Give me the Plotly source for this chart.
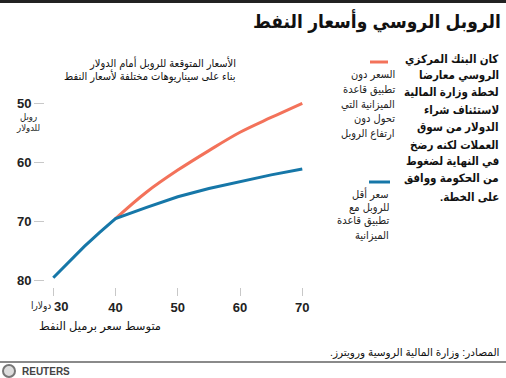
import plotly.graph_objects as go

# ---- data ----
oil_low = [30, 32.5, 35, 37.5, 40, 45, 50, 55, 60, 65, 70]
ruble_with_rule = [79.5, 76.8, 74.2, 71.8, 69.5, 67.6, 65.8, 64.4, 63.2, 62.1, 61.1]
oil_high = [40, 45, 50, 55, 60, 65, 70]
ruble_no_rule = [69.5, 65.0, 61.3, 58.0, 54.9, 52.4, 50.0]
x_ticks = [30, 40, 50, 60, 70]
x_tick_text = ["", "40", "50", "60", "70"]
y_ticks = [50, 60, 70, 80]
y_tick_text = ["50", "60", "70", "80"]

RLM = "\u200f"
title = "الروبل الروسي وأسعار النفط"
subtitle = ["الأسعار المتوقعة للروبل أمام الدولار", "بناء على سيناريوهات مختلفة لأسعار النفط"]
y_unit = ["روبل", "للدولار"]
x_title = "متوسط سعر برميل النفط"
first_tick_value = "30"
first_tick_unit = "دولارا"
legend_no_rule = ["السعر دون", "تطبيق قاعدة", "الميزانية التي", "تحول دون", "ارتفاع الروبل"]
legend_rule = ["سعر أقل", "للروبل مع", "تطبيق قاعدة", "الميزانية"]
paragraph = ["كان البنك المركزي", "الروسي معارضا", "لخطة وزارة المالية", "لاستئناف شراء",
             "الدولار من سوق", "العملات لكنه رضخ", "في النهاية لضغوط", "من الحكومة ووافق",
             "على الخطة."]
source = "المصادر: وزارة المالية الروسية ورويترز."

ORANGE = "#f3725a"
BLUE = "#1677a8"
FONT = "Liberation Sans, DejaVu Sans, sans-serif"
FONT_C = "Liberation Sans, DejaVu Sans Condensed, DejaVu Sans, sans-serif"

W, H = 506, 378
L, R, T, B = 45, 196, 95, 91
PW, PH = W - L - R, H - T - B


def px(x):
    return (x - L) / PW


def py(y):
    return (H - B - y) / PH


fig = go.Figure()
fig.add_trace(go.Scatter(x=oil_high, y=ruble_no_rule, mode="lines",
                         line=dict(color=ORANGE, width=3, shape="spline"),
                         hoverinfo="skip", showlegend=False))
fig.add_trace(go.Scatter(x=oil_low, y=ruble_with_rule, mode="lines",
                         line=dict(color=BLUE, width=3),
                         hoverinfo="skip", showlegend=False))

ann = []


def text(t, x, y, size=11, anchor="right", color="#222", bold=False, family=FONT_C):
    ann.append(dict(text=RLM + t + RLM, x=px(x), y=py(y), xref="paper", yref="paper",
                    xanchor=anchor, yanchor="middle", showarrow=False,
                    font=dict(size=size, color=color, family=family,
                              weight="bold" if bold else "normal")))


text(title, 503, 21, size=19, color="#111", bold=True)
for i, s in enumerate(subtitle):
    text(s, 238, 63 + 12.5 * i, size=11, color="#111")
for i, s in enumerate(y_unit):
    text(s, 28, 116 + 11 * i, size=9.5, anchor="center")
text(x_title, 100, 327, size=11.5, anchor="center", color="#111", family=FONT)
# first x tick label: "30" plus unit on its left
ann.append(dict(text=first_tick_value, x=x_ticks[0], y=0, xref="x", yref="paper",
                xshift=17, yshift=-19, xanchor="right", yanchor="middle", showarrow=False,
                font=dict(size=13, color="#222", family=FONT, weight="bold")))
ann.append(dict(text=first_tick_unit, x=x_ticks[0], y=0, xref="x", yref="paper",
                xshift=0, yshift=-19, xanchor="right", yanchor="middle", showarrow=False,
                font=dict(size=10, color="#222", family=FONT_C)))
for i, s in enumerate(legend_no_rule):
    text(s, 397, 75 + 14.5 * i, size=11)
for i, s in enumerate(legend_rule):
    text(s, 391, 194 + 13.7 * i, size=11)
for i, s in enumerate(paragraph):
    text(s, 501, 59 + 17.2 * i, size=11.5, color="#111", bold=True)
text(source, 502, 352, size=10.5, color="#111", family=FONT)
ann.append(dict(text="REUTERS", x=px(20), y=py(371), xref="paper", yref="paper",
                xanchor="left", yanchor="middle", showarrow=False,
                font=dict(size=10, color="#444", family=FONT, weight="bold")))

shapes = [
    dict(type="line", xref="paper", yref="paper", x0=px(0), x1=px(W), y0=py(1.5), y1=py(1.5),
         line=dict(color="#222", width=3)),
    dict(type="line", xref="paper", yref="paper", x0=px(0), x1=px(W), y0=py(362), y1=py(362),
         line=dict(color="#8a8a8a", width=2)),
    dict(type="line", xref="paper", yref="paper", x0=px(370), x1=px(388), y0=py(62), y1=py(62),
         line=dict(color=ORANGE, width=3)),
    dict(type="line", xref="paper", yref="paper", x0=px(369), x1=px(390), y0=py(182), y1=py(182),
         line=dict(color=BLUE, width=3)),
    dict(type="circle", xref="paper", yref="paper", x0=px(3), x1=px(15), y0=py(365), y1=py(377),
         line=dict(color="#777", width=2), fillcolor="#ddd"),
]

fig.update_layout(
    width=W, height=H, margin=dict(l=L, r=R, t=T, b=B, pad=0),
    paper_bgcolor="white", plot_bgcolor="white",
    annotations=ann, shapes=shapes,
    xaxis=dict(range=[28.67, 71.24], tickvals=x_ticks, ticktext=x_tick_text,
               showgrid=False, zeroline=False, showline=False,
               ticks="outside", ticklen=8, tickcolor="#c8c8c8", tickwidth=1,
               tickfont=dict(size=13, color="#222", family=FONT, weight="bold"),
               fixedrange=True),
    yaxis=dict(range=[81.06, 48.6], tickvals=y_ticks, ticktext=y_tick_text,
               showgrid=False, zeroline=False, showline=False,
               ticks="outside", ticklen=10, tickcolor="#c8c8c8", tickwidth=1,
               tickfont=dict(size=13, color="#222", family=FONT, weight="bold"),
               fixedrange=True),
)

fig.write_html("out.html", config={"displayModeBar": False},
               post_script="document.body.style.margin='0';document.body.style.overflow='hidden';")
